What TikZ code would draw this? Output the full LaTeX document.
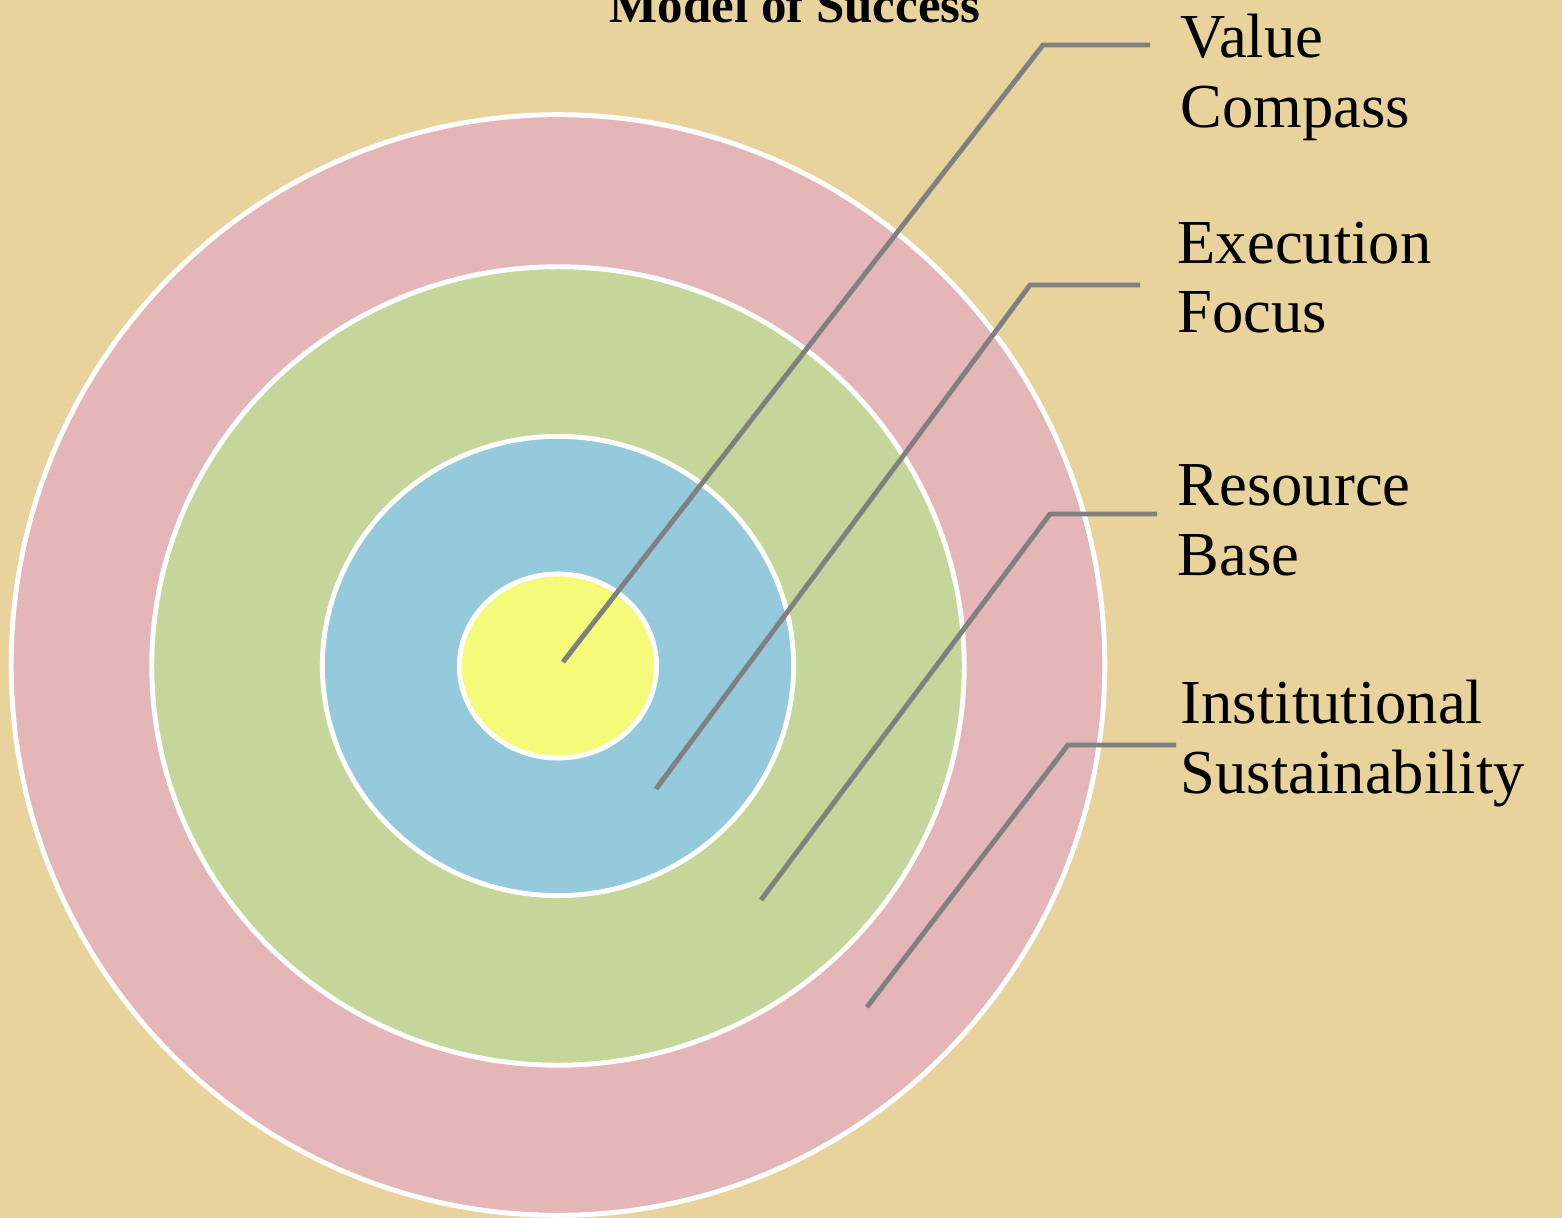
\documentclass[tikz,border=0pt]{standalone}
\usepackage{fontspec}
\setmainfont{Liberation Serif}
\usetikzlibrary{shapes.geometric}
\definecolor{parchment}{RGB}{233,211,157}
\definecolor{ringpink}{RGB}{229,182,183}
\definecolor{ringgreen}{RGB}{196,214,154}
\definecolor{ringblue}{RGB}{148,202,219}
\definecolor{ringyellow}{RGB}{243,251,120}
\definecolor{leadergray}{RGB}{128,128,128}

\begin{document}
\begin{tikzpicture}[x=0.01cm,y=-0.01cm,
	ring/.style={ellipse,draw=white,line width=1.4pt,inner sep=0pt},
	leader/.style={leadergray,line width=1.4pt},
	ringtext/.style={anchor=base west,align=left,inner sep=0pt,font=\fontsize{17.8}{19.8}\selectfont}]
	\fill [parchment] (0,0) rectangle (1562,1218);
	\useasboundingbox (0,0) rectangle (1562,1218);
	\node [ring,fill=ringpink,minimum width=10.93cm,minimum height=11cm] (sustain) at (558,665) {};
	\node [ring,fill=ringgreen,minimum width=8.12cm,minimum height=7.98cm] (resource) at (558,666) {};
	\node [ring,fill=ringblue,minimum width=4.71cm,minimum height=4.59cm] (execution) at (558,666) {};
	\node [ring,fill=ringyellow,minimum width=1.97cm,minimum height=1.84cm] (value) at (558,666) {};
	\node [anchor=base,inner sep=0pt,font=\fontsize{14.5}{16}\selectfont\bfseries] (title) at (795,22) {Model of Success};
	\node [ringtext] (vc) at (1180,127) {Value\\Compass};
	\node [ringtext] (ef) at (1177,333) {Execution\\Focus};
	\node [ringtext] (rb) at (1177,575) {Resource\\Base};
	\node [ringtext] (is) at (1180,793) {Institutional\\Sustainability};
	\coordinate (vcIn) at (563,662);
	\coordinate (vcBend) at (1043,45);
	\coordinate (vcEnd) at (1150,45);
	\coordinate (efIn) at (656,789);
	\coordinate (efBend) at (1030,285);
	\coordinate (efEnd) at (1140,285);
	\coordinate (rbIn) at (761,900);
	\coordinate (rbBend) at (1050,514);
	\coordinate (rbEnd) at (1157,514);
	\coordinate (isIn) at (867,1007);
	\coordinate (isBend) at (1068,745);
	\coordinate (isEnd) at (1176,745);
	\draw [leader] (vcIn) -- (vcBend) -- (vcEnd);
	\draw [leader] (efIn) -- (efBend) -- (efEnd);
	\draw [leader] (rbIn) -- (rbBend) -- (rbEnd);
	\draw [leader] (isIn) -- (isBend) -- (isEnd);
\end{tikzpicture}
\end{document}
